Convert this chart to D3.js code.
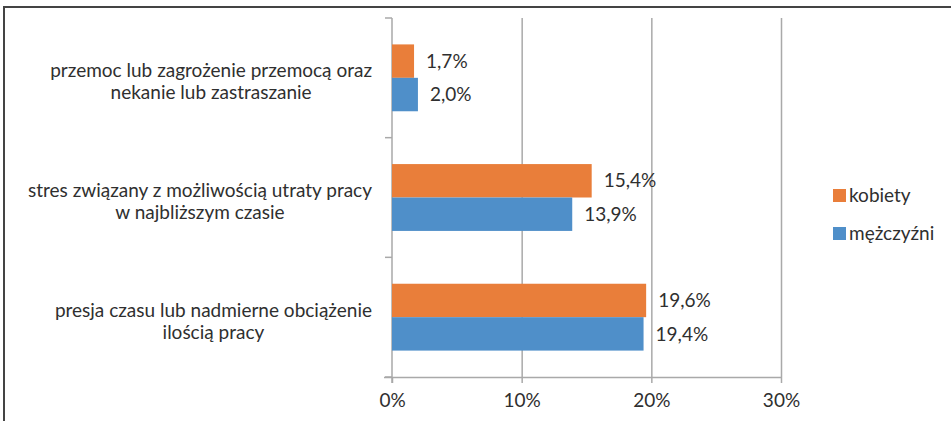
<!DOCTYPE html>
<html>
<head>
<meta charset="utf-8">
<script src="https://cdn.jsdelivr.net/npm/d3@7"></script>
<style>
  body { margin: 0; background: #fff; }
  svg { display: block; font-family: Lato, "Open Sans", sans-serif; }
</style>
</head>
<body>
<svg width="951" height="421"></svg>
<script>
// data
const categories = [
  ['przemoc lub zagrożenie przemocą oraz', 'nekanie lub zastraszanie'],
  ['stres związany z możliwością utraty pracy', 'w najbliższym czasie'],
  ['presja czasu lub nadmierne obciążenie', 'ilością pracy']
];
const seriesNames = ['kobiety', 'mężczyźni'];
const kobiety = [1.7, 15.4, 19.6];
const mezczyzni = [2.0, 13.9, 19.4];
const xTicks = [0, 10, 20, 30];
const colors = ['#e97e3a', '#4f8fc9'];

const svg = d3.select('svg');
const textColor = '#2f2f2f';
const gridColor = '#a9a9a9';
const fontSize = 19;

// frame (top and left edges only, like the scan)
svg.append('line').attr('x1', 4).attr('y1', 7).attr('x2', 951).attr('y2', 7)
  .attr('stroke', '#444').attr('stroke-width', 2);
svg.append('line').attr('x1', 4).attr('y1', 6).attr('x2', 4).attr('y2', 421)
  .attr('stroke', '#444').attr('stroke-width', 2);

// scales
const x = d3.scaleLinear().domain([0, 30]).range([392, 781]);
const y0 = d3.scaleBand().domain(d3.range(categories.length)).range([18, 377]);
const y1 = d3.scaleBand().domain(d3.range(seriesNames.length))
  .range([0, y0.bandwidth()]).paddingInner(0).paddingOuter(0.79);

// grid lines
svg.append('g')
  .attr('transform', 'translate(0,377)')
  .call(d3.axisBottom(x).tickValues(xTicks.slice(1)).tickSize(-(377 - 18)).tickFormat(''))
  .call(g => g.select('.domain').remove())
  .call(g => g.selectAll('line').attr('stroke', gridColor).attr('stroke-width', 1.5));

// x axis
svg.append('g')
  .attr('transform', 'translate(0,377)')
  .call(d3.axisBottom(x).tickValues(xTicks).tickSize(6).tickPadding(11).tickFormat(d => d + '%'))
  .call(g => g.select('.domain').attr('stroke', gridColor).attr('stroke-width', 1.5)
    .attr('d', 'M384,0.5H781'))
  .call(g => g.selectAll('line').attr('stroke', gridColor).attr('stroke-width', 1.5))
  .call(g => g.selectAll('text').attr('fill', textColor).attr('font-size', fontSize)
    .attr('font-family', 'Lato, sans-serif'));

// y axis line with ticks on category boundaries
svg.append('line').attr('x1', 392).attr('x2', 392).attr('y1', 18).attr('y2', 383)
  .attr('stroke', gridColor).attr('stroke-width', 1.5);
const bounds = y0.domain().map(i => y0(i)).concat([y0.range()[1]]);
svg.append('g').selectAll('line').data(bounds).join('line')
  .attr('x1', 385).attr('x2', 392)
  .attr('y1', d => d).attr('y2', d => d)
  .attr('stroke', gridColor).attr('stroke-width', 1.5);

// bars
const groups = svg.append('g').selectAll('g').data(categories).join('g')
  .attr('transform', (d, i) => `translate(0,${y0(i)})`);

const fmt = v => d3.format('.1f')(v).replace('.', ',') + '%';

groups.each(function(d, i) {
  const g = d3.select(this);
  const vals = [kobiety[i], mezczyzni[i]];
  g.selectAll('rect').data(vals).join('rect')
    .attr('x', x(0))
    .attr('y', (v, j) => y1(j))
    .attr('width', v => x(v) - x(0))
    .attr('height', y1.bandwidth())
    .attr('fill', (v, j) => colors[j]);
  g.selectAll('text.val').data(vals).join('text')
    .attr('class', 'val')
    .attr('x', v => x(v) + 12)
    .attr('y', (v, j) => y1(j) + y1.bandwidth() / 2)
    .attr('dy', '0.35em')
    .attr('font-size', fontSize)
    .attr('fill', textColor)
    .text(fmt);
});

// category labels: block right-aligned at 372, lines centred inside
groups.each(function(lines, i) {
  const g = d3.select(this);
  const t = g.append('g');
  const texts = t.selectAll('text').data(lines).join('text')
    .attr('font-size', fontSize)
    .attr('fill', textColor)
    .attr('text-anchor', 'middle')
    .attr('y', (l, k) => y0.bandwidth() / 2 + 4 + (k - (lines.length - 1) / 2) * 22)
    .attr('dy', '0.35em')
    .text(l => l);
  const maxW = d3.max(texts.nodes(), n => n.getComputedTextLength());
  texts.attr('x', 372 - maxW / 2);
});

// legend
const legend = svg.append('g').attr('transform', 'translate(833,189)');
seriesNames.forEach((name, j) => {
  const row = legend.append('g').attr('transform', `translate(0,${j * 38})`);
  row.append('rect').attr('width', 13).attr('height', 13).attr('fill', colors[j]);
  row.append('text').attr('x', 16).attr('y', 6.5).attr('dy', '0.35em')
    .attr('font-size', fontSize).attr('fill', textColor).text(name);
});
</script>
</body>
</html>
